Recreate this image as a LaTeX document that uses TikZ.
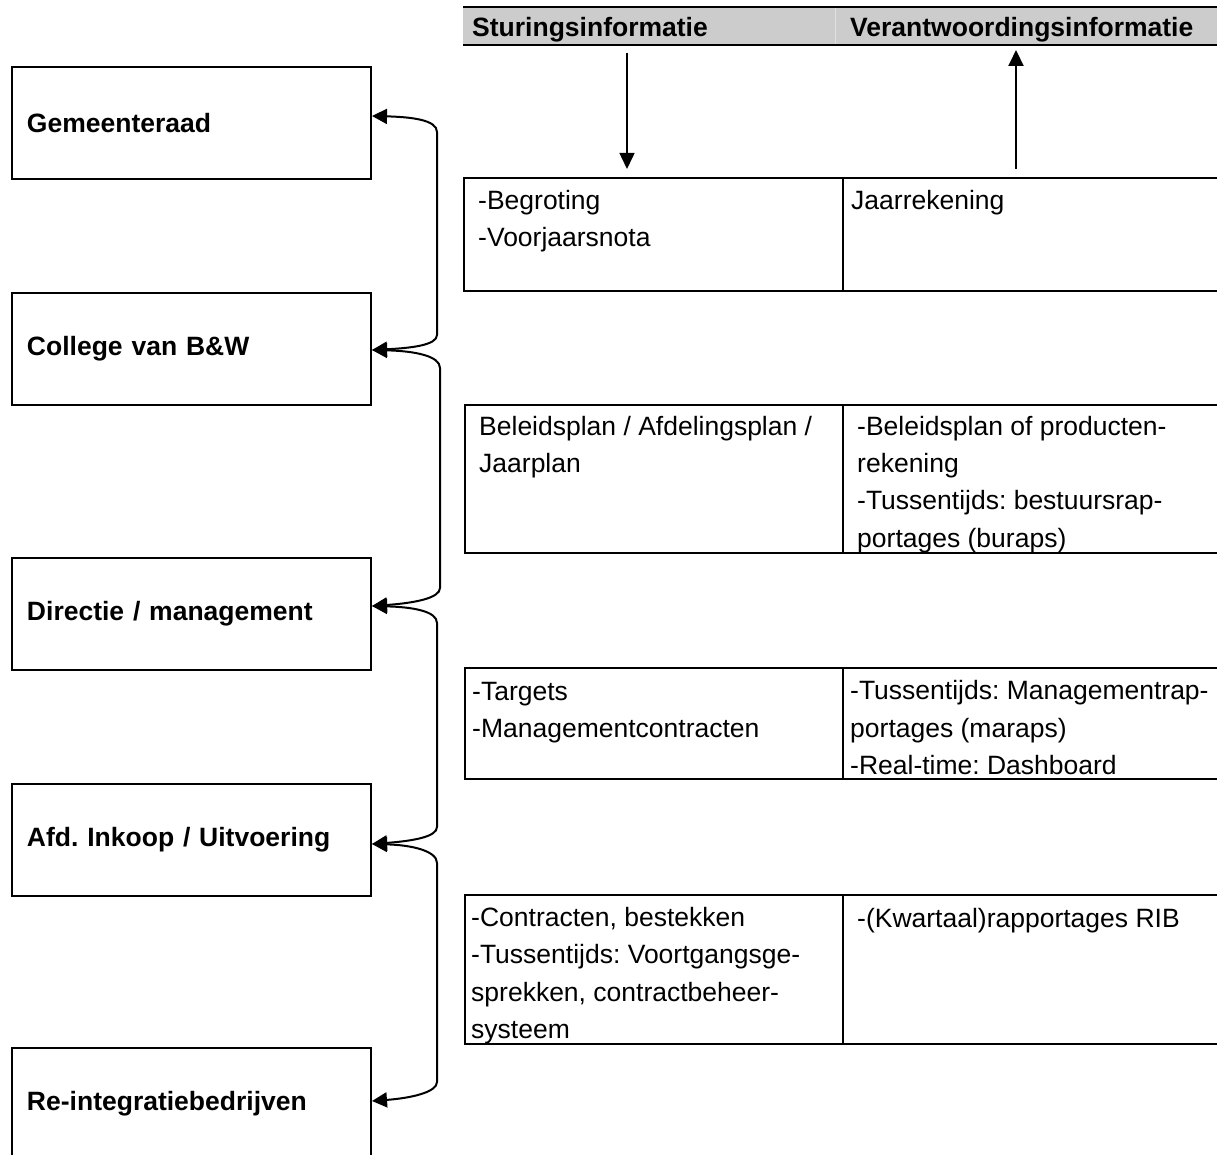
\documentclass[tikz,border=0pt]{standalone}
\usepackage{fontspec}
\setmainfont{Liberation Sans}
\usetikzlibrary{arrows.meta,calc}
\definecolor{hdrgray}{gray}{0.8}
\definecolor{sepgray}{gray}{0.88}
\frenchspacing
\begin{document}
\begin{tikzpicture}[x=1pt,y=-1pt,
  txt/.style={font=\fontsize{26.5}{37.3}\selectfont},
  rolebox/.style={draw, line width=2pt, anchor=north west, minimum width=359pt,
    minimum height=112pt, text width=329pt, inner xsep=15pt, inner ysep=0pt, align=left,
    font=\fontsize{26.5}{37.3}\selectfont\bfseries},
  cell/.style={draw, line width=2pt, anchor=north west, inner sep=0pt, outer sep=0pt},
  celltext/.style={txt, anchor=base west, inner sep=0pt, align=left},
  hdrtext/.style={anchor=base west, inner sep=0pt, font=\fontsize{26.5}{37.3}\selectfont\bfseries},
  link/.style={line width=2pt, {Triangle[length=15pt,width=15pt]}-{Triangle[length=15pt,width=15pt]}},
  flow/.style={-{Triangle[length=16pt,width=15pt]}}]

\useasboundingbox (0,0) rectangle (1217,1155);
\clip (0,0) rectangle (1217,1155);

% left boxes
\node[rolebox] (g) at (11,66) {\raisebox{-2pt}{Gemeenteraad}};
\node[rolebox] (c) at (11,292) {\raisebox{-2pt}{College van B\&W}};
\node[rolebox] (d) at (11,557) {\raisebox{-2pt}{Directie / management}};
\node[rolebox] (a) at (11,783) {\raisebox{-2pt}{Afd.\ Inkoop / Uitvoering}};
\node[rolebox] (r) at (11,1047) {\raisebox{-2pt}{Re-integratiebedrijven}};

% header
\node[fill=hdrgray, anchor=north west, minimum width=780pt, minimum height=38pt,
  inner sep=0pt, outer sep=0pt] (hdr) at (463,7) {};
\draw[line width=1pt, sepgray] (835,8) -- (835,44);
\draw[line width=1.5pt] (hdr.north west) -- (hdr.north east);
\draw[line width=2pt] (hdr.south west) -- (hdr.south east);
\node[hdrtext] (h1) at (472,37) {Sturingsinformatie};
\node[hdrtext] (h2) at (850,37) {Verantwoordingsinformatie};

% table 1 (text nodes anchored at the baseline of their last line)
\node[cell, minimum width=379pt, minimum height=113pt] (t1l) at (464,178) {};
\node[cell, minimum width=420pt, minimum height=113pt] (t1r) at (843,178) {};
\node[celltext] (t1a) at (478,247) {-Begroting\\-Voorjaarsnota};
\node[celltext] (t1b) at (851,209.5) {Jaarrekening};

% table 2
\node[cell, minimum width=378pt, minimum height=148pt] (t2l) at (465,405) {};
\node[cell, minimum width=420pt, minimum height=148pt] (t2r) at (843,405) {};
\node[celltext] (t2a) at (479,472.5) {Beleidsplan / Afdelingsplan /\\Jaarplan};
\node[celltext] (t2b) at (857,547) {-Beleidsplan of producten-\\rekening\\-Tussentijds: bestuursrap-\\portages (buraps)};

% table 3
\node[cell, minimum width=378pt, minimum height=111pt] (t3l) at (465,668) {};
\node[cell, minimum width=420pt, minimum height=111pt] (t3r) at (843,668) {};
\node[celltext] (t3a) at (472,737.5) {-Targets\\-Managementcontracten};
\node[celltext] (t3b) at (850,774.5) {-Tussentijds: Managementrap-\\portages (maraps)\\-Real-time: Dashboard};

% table 4
\node[cell, minimum width=378pt, minimum height=149pt] (t4l) at (465,895) {};
\node[cell, minimum width=420pt, minimum height=149pt] (t4r) at (843,895) {};
\node[celltext] (t4a) at (471,1038.5) {-Contracten, bestekken\\-Tussentijds: Voortgangsge-\\sprekken, contractbeheer-\\systeem};
\node[celltext] (t4b) at (857,927) {-(Kwartaal)rapportages RIB};

% vertical flow arrows
\coordinate (s1) at (627,53);
\coordinate (s2) at (627,169);
\coordinate (v1) at (1016,169);
\coordinate (v2) at (1016,50);
\draw[flow, line width=1.5pt] (s1) -- (s2);
\draw[flow, line width=2pt] (v1) -- (v2);

% curved double-headed connectors
\draw[link] ([yshift=7pt]g.east) .. controls (412,117) and (437,120) .. (437,132)
  -- (437,335) .. controls (437,345) and (412,348) .. ([yshift=-1pt]c.east);
\draw[link] ([yshift=-1pt]c.east) .. controls (415,351) and (440,356) .. (440,368)
  -- (440,588) .. controls (440,598) and (415,603) .. ([yshift=8pt]d.east);
\draw[link] ([yshift=8pt]d.east) .. controls (412,607) and (437,611) .. (437,623)
  -- (437,827) .. controls (437,837) and (412,841) .. ([yshift=-4pt]a.east);
\draw[link] ([yshift=-4pt]a.east) .. controls (412,845) and (437,851) .. (437,863)
  -- (437,1082) .. controls (437,1092) and (412,1098) .. ([yshift=3pt]r.east);
\end{tikzpicture}
\end{document}
